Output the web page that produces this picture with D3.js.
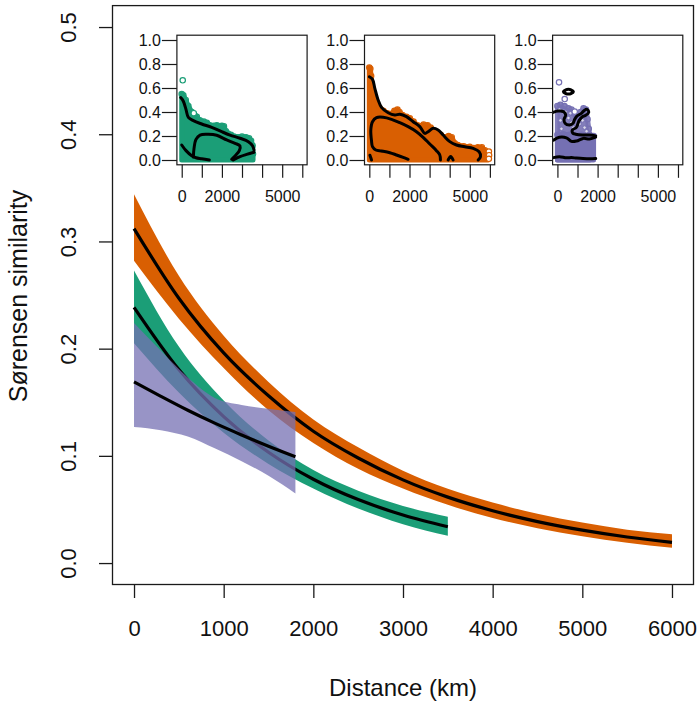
<!DOCTYPE html>
<html>
<head>
<meta charset="utf-8">
<script src="https://cdnjs.cloudflare.com/ajax/libs/d3/7.8.5/d3.min.js"></script>
<style>
  body { margin: 0; background: #fff; }
  text { font-family: "Liberation Sans", Arial, Helvetica, sans-serif; fill: #111; }
</style>
</head>
<body>
<svg id="chart" width="700" height="701"></svg>
<script>
// ---- main panel data (distance in km, similarity) ----
const mainXTicks = [0, 1000, 2000, 3000, 4000, 5000, 6000];
const mainYTicks = [0, 0.1, 0.2, 0.3, 0.4, 0.5];

const orangeDist = [0, 500, 1000, 1500, 2000, 2500, 3000, 3500, 4000, 4500, 5000, 5500, 6000];
const orangeFit = [0.312, 0.247, 0.196, 0.156, 0.123, 0.098, 0.0776, 0.0615, 0.0488, 0.0387, 0.0307, 0.0243, 0.0193];
const orangeLo = [0.282, 0.228, 0.182, 0.1425, 0.112, 0.088, 0.0696, 0.0543, 0.042, 0.0325, 0.025, 0.019, 0.0143];
const orangeHi = [0.344, 0.268, 0.212, 0.169, 0.134, 0.108, 0.0861, 0.0692, 0.0564, 0.0461, 0.0378, 0.0311, 0.0268];

const greenDist = [0, 500, 1000, 1500, 2000, 2500, 3000, 3500];
const greenFit = [0.2385, 0.1805, 0.1366, 0.1034, 0.0782, 0.0592, 0.0448, 0.0339];
const greenLo = [0.205, 0.159, 0.1216, 0.0925, 0.0696, 0.0509, 0.0363, 0.0255];
const greenHi = [0.273, 0.202, 0.1516, 0.1143, 0.0868, 0.0675, 0.0533, 0.0432];

const purpleDist = [0, 300, 600, 900, 1200, 1500, 1800];
const purpleFit = [0.169, 0.1555, 0.1425, 0.1305, 0.1195, 0.109, 0.0992];
const purpleLo = [0.127, 0.124, 0.118, 0.107, 0.095, 0.0815, 0.065];
const purpleHi = [0.224, 0.198, 0.173, 0.154, 0.1475, 0.144, 0.141];

// ---- inset data ----
const insetXTicks = [0, 1000, 2000, 3000, 4000, 5000, 6000];
const insetXLabels = [0, 2000, 5000];
const insetYTicks = [0, 0.2, 0.4, 0.6, 0.8, 1.0];

const greenCloudTop = [[0, 0.55], [80, 0.54], [200, 0.5], [330, 0.45], [500, 0.4], [650, 0.37], [750, 0.36],
  [900, 0.33], [1100, 0.32], [1250, 0.31], [1400, 0.29], [1600, 0.285], [1750, 0.29], [1900, 0.28],
  [2000, 0.285], [2100, 0.28], [2200, 0.24], [2300, 0.22], [2450, 0.21], [2600, 0.195], [2800, 0.19],
  [3000, 0.195], [3200, 0.19], [3350, 0.18], [3450, 0.16], [3530, 0.12], [3550, 0.05], [3550, 0]];
const greenOutliers = [[50, 0.664], [600, 0.39]];
const greenContours = [
  [[-50, 0.52], [80, 0.49], [214, 0.42], [330, 0.356], [579, 0.328], [993, 0.3], [1491, 0.272], [1988, 0.236],
   [2403, 0.208], [2900, 0.181], [3315, 0.153], [3531, 0.117], [3597, 0.083]],
  [[579, 0.025], [612, 0.097], [711, 0.172], [910, 0.208], [1325, 0.214], [1740, 0.206], [2237, 0.167],
   [2652, 0.139], [2900, 0.117], [2867, 0.078], [2701, 0.042], [2486, 0.006]],
  [[0, 0.125], [214, 0.078], [496, 0.036], [711, 0.019], [993, 0.011], [1375, 0]],
  [[2568, 0], [2900, 0.028], [3232, 0.047], [3597, 0.064]]
];

const orangeCloudTop = [[0, 0.77], [50, 0.76], [90, 0.7], [120, 0.62], [200, 0.55], [274, 0.5], [400, 0.46],
  [522, 0.43], [700, 0.41], [900, 0.39], [1100, 0.385], [1250, 0.41], [1400, 0.42], [1500, 0.4], [1650, 0.375],
  [1850, 0.36], [2015, 0.347], [2200, 0.32], [2400, 0.29], [2550, 0.28], [2700, 0.295], [2900, 0.29],
  [3050, 0.27], [3342, 0.236], [3550, 0.21], [3750, 0.19], [3950, 0.2], [4100, 0.19], [4250, 0.14],
  [4400, 0.125], [4700, 0.115], [5000, 0.11], [5200, 0.1], [5400, 0.105], [5600, 0.105], [5750, 0.08],
  [5850, 0.06], [5900, 0]];
const orangeOutliers = [[5950, 0.07], [5960, 0.04], [5950, 0.01]];
const orangeContours = [
  [[0, 0.694], [158, 0.672], [274, 0.597], [439, 0.5], [605, 0.439], [937, 0.394], [1269, 0.375], [1517, 0.381],
   [1849, 0.361], [2181, 0.319], [2512, 0.278], [2761, 0.222], [2927, 0.236], [3176, 0.264], [3425, 0.25],
   [3673, 0.208], [4005, 0.153], [4337, 0.125], [4751, 0.111], [5166, 0.097], [5464, 0.069], [5531, 0.028],
   [5415, 0]],
  [[1932, 0.006], [1683, 0.022], [1352, 0.042], [1020, 0.061], [605, 0.075], [323, 0.083], [158, 0.111],
   [108, 0.161], [74, 0.25], [158, 0.319], [357, 0.353], [688, 0.356], [1103, 0.339], [1517, 0.311],
   [1932, 0.278], [2347, 0.236], [2678, 0.189], [3010, 0.133], [3342, 0.078], [3507, 0.042], [3540, 0]],
  [[30, 0.04], [70, 0.02], [110, 0]],
  [[3922, 0], [4050, 0.03], [4170, 0]]
];

const purpleCloudTop = [[0, 0.21], [300, 0.215], [600, 0.21], [900, 0.2], [1200, 0.21], [1500, 0.2], [1800, 0.2], [1800, 0]];
const purpleSparseTop = [[0, 0.45], [150, 0.46], [350, 0.45], [550, 0.43], [700, 0.42], [800, 0.39], [950, 0.35],
  [1050, 0.36], [1150, 0.4], [1300, 0.43], [1420, 0.42], [1500, 0.34], [1560, 0.26], [1600, 0.21], [1600, 0]];
const purpleOutliers = [[80, 0.647], [363, 0.508], [860, 0.403]];
const purpleSpeckles = [[100, 0.42], [400, 0.4], [150, 0.33], [550, 0.35], [700, 0.31],
  [200, 0.26], [800, 0.27], [1100, 0.3], [1250, 0.33], [1350, 0.27], [1450, 0.24], [650, 0.39]];
const purpleContours = [
  [[-217, 0.397], [31, 0.408], [313, 0.403], [413, 0.375], [330, 0.339], [380, 0.306], [612, 0.292], [778, 0.306],
   [861, 0.339], [977, 0.367], [1192, 0.389], [1325, 0.411], [1474, 0.422], [1557, 0.397], [1408, 0.372],
   [1242, 0.361], [1076, 0.328], [944, 0.272], [745, 0.25], [760, 0.225], [910, 0.215], [1242, 0.208],
   [1607, 0.208], [1905, 0.2]],
  [[-200, 0.165], [100, 0.19], [450, 0.185], [700, 0.155], [950, 0.158], [1280, 0.18], [1600, 0.175], [1900, 0.19]],
  [[-200, 0.02], [100, 0.028], [450, 0.018], [700, 0.02], [950, 0.016], [1275, 0.012], [1607, 0.01], [1905, 0.012]]
];
const purpleRing = [[296, 0.569], [420, 0.585], [546, 0.589], [672, 0.585], [796, 0.569], [672, 0.553], [546, 0.549], [420, 0.553]];

// ---- drawing ----
const svg = d3.select("#chart");
const ink = "#1a1a1a";
const colGreen = "#1b9e77", colOrange = "#d95f02", colPurple = "#7570b3";

const x = d3.scaleLinear().domain([-240, 6240]).range([112.5, 693.5]);
const y = d3.scaleLinear().domain([-0.02, 0.52]).range([584.5, 5.6]);

svg.append("rect")
  .attr("x", x(-240)).attr("y", y(0.52))
  .attr("width", x(6240) - x(-240)).attr("height", y(-0.02) - y(0.52))
  .attr("fill", "none").attr("stroke", ink).attr("stroke-width", 1.3);

const xAxis = svg.append("g")
  .attr("transform", `translate(0,${y(-0.02)})`)
  .call(d3.axisBottom(x).tickValues(mainXTicks).tickSize(13.5).tickPadding(22).tickFormat(d3.format("d")));
xAxis.select(".domain").remove();

const yAxis = svg.append("g")
  .attr("transform", `translate(${x(-240)},0)`)
  .call(d3.axisLeft(y).tickValues(mainYTicks).tickSize(13.5).tickFormat(d3.format(".1f")));
yAxis.select(".domain").remove();
yAxis.selectAll(".tick text")
  .attr("x", null).attr("dy", "0.35em")
  .attr("transform", "translate(-44,0) rotate(-90)")
  .attr("text-anchor", "middle");

[xAxis, yAxis].forEach((a) => {
  a.selectAll(".tick line").attr("stroke", ink).attr("stroke-width", 1.3);
  a.selectAll(".tick text").attr("font-size", "22px").attr("font-family", null).attr("fill", "#111");
});

svg.append("text")
  .attr("x", 403).attr("y", 696)
  .attr("text-anchor", "middle").attr("font-size", "24px")
  .text("Distance (km)");

svg.append("text")
  .attr("transform", "translate(27,296) rotate(-90)")
  .attr("text-anchor", "middle").attr("font-size", "25px")
  .text("Sørensen similarity");

function drawFit(dist, fit, lo, hi, color, opacity) {
  const rows = dist.map((d, i) => ({ d, fit: fit[i], lo: lo[i], hi: hi[i] }));
  svg.append("path")
    .datum(rows)
    .attr("fill", color)
    .attr("fill-opacity", opacity)
    .attr("d", d3.area().curve(d3.curveMonotoneX)
      .x((r) => x(r.d)).y0((r) => y(r.lo)).y1((r) => y(r.hi)));
  svg.append("path")
    .datum(rows)
    .attr("fill", "none")
    .attr("stroke", "#000")
    .attr("stroke-width", 3.2)
    .attr("d", d3.line().curve(d3.curveMonotoneX).x((r) => x(r.d)).y((r) => y(r.fit)));
}

drawFit(orangeDist, orangeFit, orangeLo, orangeHi, colOrange, 1);
drawFit(greenDist, greenFit, greenLo, greenHi, colGreen, 1);
drawFit(purpleDist, purpleFit, purpleLo, purpleHi, colPurple, 0.75);

// ---- insets ----
const insets = [
  { left: 176.9, color: colGreen, top: greenCloudTop, outliers: greenOutliers, contours: greenContours },
  { left: 364.5, color: colOrange, top: orangeCloudTop, outliers: orangeOutliers, contours: orangeContours },
  { left: 552.6, color: colPurple, top: purpleCloudTop, sparse: purpleSparseTop, speckles: purpleSpeckles,
    outliers: purpleOutliers, contours: purpleContours, ring: purpleRing }
];

insets.forEach((inset, idx) => {
  const xi = d3.scaleLinear().domain([-240, 6240]).range([inset.left, inset.left + 130.2]);
  const yi = d3.scaleLinear().domain([-0.04, 1.04]).range([164.8, 35.2]);
  const g = svg.append("g");
  const clipId = `inset-clip-${idx}`;

  g.append("clipPath").attr("id", clipId)
    .append("rect")
    .attr("x", xi(-240)).attr("y", yi(1.04))
    .attr("width", xi(6240) - xi(-240)).attr("height", yi(-0.04) - yi(1.04));

  g.append("rect")
    .attr("x", xi(-240)).attr("y", yi(1.04))
    .attr("width", xi(6240) - xi(-240)).attr("height", yi(-0.04) - yi(1.04))
    .attr("fill", "#fff");

  const body = g.append("g").attr("clip-path", `url(#${clipId})`);
  const cloud = d3.area().x((p) => xi(p[0])).y0(yi(0)).y1((p) => yi(p[1]));

  if (inset.sparse) {
    body.append("path").datum(inset.sparse)
      .attr("fill", inset.color).attr("fill-opacity", 0.9)
      .attr("stroke", inset.color).attr("stroke-opacity", 0.9)
      .attr("stroke-width", 5).attr("stroke-linejoin", "round")
      .attr("d", cloud);
  }

  body.append("path").datum(inset.top)
    .attr("fill", inset.color)
    .attr("stroke", inset.color).attr("stroke-width", 5).attr("stroke-linejoin", "round")
    .attr("d", cloud);

  const edgePts = inset.top.filter((p) => p[1] > 0).concat(inset.sparse ? inset.sparse.filter((p) => p[1] > 0) : []);
  body.selectAll(".edge").data(edgePts).join("circle")
    .attr("cx", (p) => xi(p[0])).attr("cy", (p) => yi(p[1])).attr("r", 2.7)
    .attr("fill", "none").attr("stroke", inset.color).attr("stroke-width", 1.2);

  if (inset.speckles) {
    body.selectAll(".speck").data(inset.speckles).join("circle")
      .attr("cx", (p) => xi(p[0])).attr("cy", (p) => yi(p[1])).attr("r", 1.8)
      .attr("fill", "#fff").attr("fill-opacity", 0.7)
      .attr("stroke", inset.color).attr("stroke-width", 1);
  }

  body.selectAll(".outlier").data(inset.outliers).join("circle")
    .attr("cx", (p) => xi(p[0])).attr("cy", (p) => yi(p[1])).attr("r", 2.7)
    .attr("fill", "#fff").attr("stroke", inset.color).attr("stroke-width", 1.2);

  const contourLine = d3.line().curve(d3.curveCatmullRom.alpha(0.5))
    .x((p) => xi(p[0])).y((p) => yi(p[1]));
  inset.contours.forEach((c) => {
    body.append("path").datum(c)
      .attr("fill", "none").attr("stroke", "#000").attr("stroke-width", 3)
      .attr("stroke-linecap", "round").attr("stroke-linejoin", "round")
      .attr("d", contourLine);
  });
  if (inset.ring) {
    body.append("path").datum(inset.ring)
      .attr("fill", "none").attr("stroke", "#000").attr("stroke-width", 3)
      .attr("d", d3.line().curve(d3.curveCardinalClosed).x((p) => xi(p[0])).y((p) => yi(p[1])));
  }

  g.append("rect")
    .attr("x", xi(-240)).attr("y", yi(1.04))
    .attr("width", xi(6240) - xi(-240)).attr("height", yi(-0.04) - yi(1.04))
    .attr("fill", "none").attr("stroke", ink).attr("stroke-width", 1.2);

  const ax = g.append("g")
    .attr("transform", `translate(0,${yi(-0.04)})`)
    .call(d3.axisBottom(xi).tickValues(insetXTicks).tickSize(13).tickPadding(13)
      .tickFormat((d) => (insetXLabels.includes(d) ? d : "")));
  const ay = g.append("g")
    .attr("transform", `translate(${xi(-240)},0)`)
    .call(d3.axisLeft(yi).tickValues(insetYTicks).tickSize(15).tickPadding(1).tickFormat(d3.format(".1f")));
  [ax, ay].forEach((a) => {
    a.select(".domain").remove();
    a.selectAll(".tick line").attr("stroke", ink).attr("stroke-width", 1.2);
    a.selectAll(".tick text").attr("font-size", "16px").attr("font-family", null).attr("fill", "#111");
  });
});
</script>
</body>
</html>
